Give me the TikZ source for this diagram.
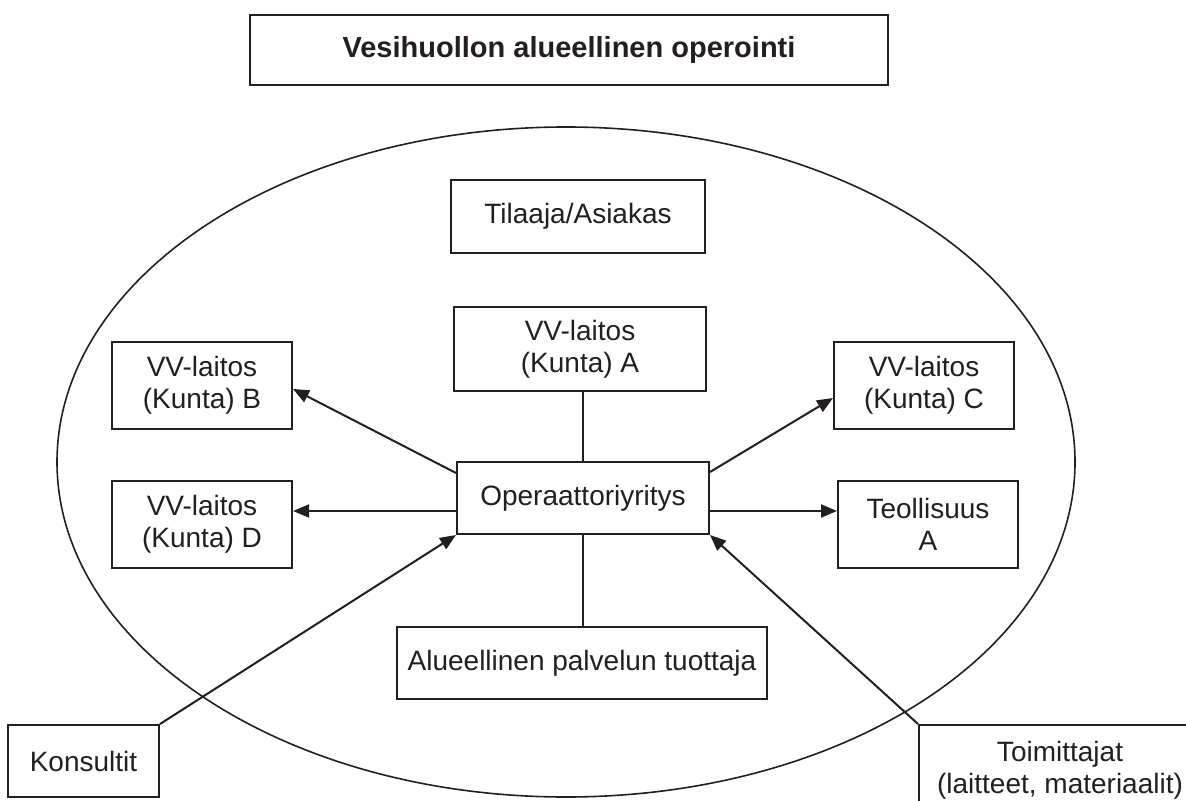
\documentclass[tikz,border=0pt]{standalone}
\usepackage{fontspec}
\setmainfont{Liberation Sans}
\usetikzlibrary{calc,arrows.meta}
\definecolor{ink}{RGB}{35,31,32}
\tikzset{
  box/.style={draw=ink, line width=1pt, inner sep=0pt, align=center, text=ink,
    font=\fontsize{14}{16}\selectfont},
  link/.style={draw=ink, line width=1pt},
  arr/.style={link, -{Triangle[length=8pt,width=6.5pt]}},
}
\begin{document}
\begin{tikzpicture}[x=0.5pt,y=-0.5pt]
\clip (0,0) rectangle (1186,801);
\fill[white] (0,0) rectangle (1186,801);
% ellipse
\draw[ink, line width=0.8pt] (566,462) ellipse [x radius=254.5pt, y radius=167.5pt];
% nodes
\node[box, minimum width=319pt, minimum height=35pt, font=\fontsize{14.5}{16}\selectfont\bfseries] (title) at (569,50) {Vesihuollon alueellinen operointi};
\node[box, minimum width=127pt, minimum height=36.5pt] (tilaaja) at (578,216.5) {Tilaaja/Asiakas};
\node[box, minimum width=126pt, minimum height=42pt] (vva) at (580,349) {VV-laitos\\(Kunta) A};
\node[box, minimum width=126pt, minimum height=36pt] (op) at (583,498) {Operaattoriyritys};
\node[box, minimum width=185pt, minimum height=36pt] (alue) at (582,663) {Alueellinen palvelun tuottaja};
\node[box, minimum width=90pt, minimum height=43.5pt] (vvb) at (202,385.5) {VV-laitos\\(Kunta) B};
\node[box, minimum width=90pt, minimum height=43.5pt] (vvd) at (202,524.5) {VV-laitos\\(Kunta) D};
\node[box, minimum width=90pt, minimum height=43.5pt] (vvc) at (924,385.5) {VV-laitos\\(Kunta) C};
\node[box, minimum width=90pt, minimum height=43.5pt] (teol) at (928,524.5) {Teollisuus\\A};
\node[box, minimum width=75.5pt, minimum height=36pt] (kons) at (83.5,761) {Konsultit};
\node[box, minimum width=141pt, minimum height=45pt] (toim) at (1060,770) {Toimittajat\\(laitteet, materiaalit)};
% connectors
\draw[link] (op.north) -- (op.north |- vva.south);
\draw[link] (op.south) -- (op.south |- alue.north);
\draw[arr] ($(op.north west)+(0,12)$) -- ($(vvb.east)+(0,3.5)$);
\draw[arr] ($(op.west)+(0,13)$) coordinate (pd) -- (vvd.east |- pd);
\draw[arr] ($(op.north east)+(0,11)$) -- ($(vvc.west)+(0,12.5)$);
\draw[arr] ($(op.east)+(0,13)$) coordinate (pt) -- (teol.west |- pt);
\draw[arr] (kons.north east) -- (op.south west);
\draw[arr] (toim.north west) -- (op.south east);
\end{tikzpicture}
\end{document}
